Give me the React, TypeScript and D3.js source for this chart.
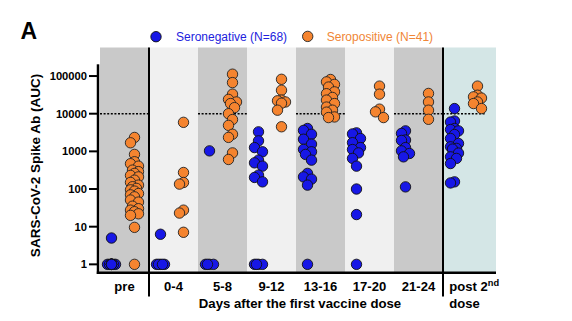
import React from 'react';
import * as d3 from 'd3';

const categories = ['pre', '0-4', '5-8', '9-12', '13-16', '17-20', '21-24', 'post'];
const bandShade = ['dark', 'light', 'dark', 'light', 'dark', 'light', 'dark', 'teal'];
const thresholdBands = ['pre', '5-8', '13-16', '21-24', 'post'];

const seronegative: number[][] = [
  [5, 1, 1, 1, 1, 1, 1, 1, 1, 1, 1, 1, 1],
  [6.3, 1, 1, 1, 1, 1],
  [1030, 1, 1, 1, 1],
  [3300, 1900, 1260, 975, 585, 495, 405, 234, 203, 155, 1, 1, 1, 1],
  [4050, 3600, 2850, 2100, 1560, 1130, 975, 830, 585, 260, 210, 183, 127, 1],
  [3100, 2900, 2200, 1700, 1260, 1120, 910, 650, 405, 100, 21, 1],
  [3500, 3000, 2000, 1950, 1260, 1030, 880, 715, 114],
  [13700, 6400, 6000, 4050, 3800, 3500, 2800, 2200, 1620, 1320, 1200, 1150, 900, 715, 650, 475, 155, 145],
];

const seropositive: number[][] = [
  [2340, 1690, 830, 530, 470, 405, 318, 290, 260, 230, 210, 172, 150, 127, 115, 104, 95, 88, 76, 70, 62, 51, 45, 35, 30, 27.5, 25, 22, 20, 9.6, 1],
  [5900, 275, 149, 135, 27.5, 23, 7.1],
  [112000, 67000, 33000, 24000, 20500, 18600, 14500, 10000, 7000, 4900, 2850, 2350, 910, 610],
  [82000, 42000, 23000, 22000, 20500, 19000, 12400, 4500],
  [81000, 70000, 60000, 51000, 38000, 34000, 27000, 23000, 18600, 15000, 12400, 11000, 8200, 7900],
  [54000, 33000, 13200, 11200, 7900],
  [34500, 20500, 12400, 7100],
  [54000, 31000, 28000, 26000, 20500, 18600, 13700],
];

const yTicks = [1, 10, 100, 1000, 10000, 100000];
const threshold = 10000;

const BLUE = '#1717e6';
const ORANGE = '#f5842f';
const FONT = '"Liberation Sans", Arial, Helvetica, sans-serif';
const shadeColor: Record<string, string> = { dark: '#c9c9c9', light: '#f0f0f0', teal: '#d4e6e6' };

const x = d3.scaleBand<string>().domain(categories).range([100, 492]).paddingInner(0).paddingOuter(0);
const y = d3.scaleLog().domain([0.6, 205000]).range([272.7, 64.3]);

function swarm(vals: number[], cx: number) {
  const placed: { x: number; y: number }[] = [];
  const offsets = [0, -4, 4, -2, 2];
  return vals
    .slice()
    .sort((a, b) => b - a)
    .map((v) => {
      const py = y(v);
      let best = 0;
      let bestD = -1;
      for (const o of offsets) {
        const px = cx + o;
        let md = Infinity;
        for (const p of placed) md = Math.min(md, Math.hypot(p.x - px, p.y - py));
        if (md >= 7) {
          best = o;
          break;
        }
        if (md > bestD) {
          bestD = md;
          best = o;
        }
      }
      placed.push({ x: cx + best, y: py });
      return { x: cx + best, y: py, v };
    });
}

function SText(props: { x: number; y: number; sx?: number; size: number; anchor?: string; bold?: boolean; fill?: string; children: React.ReactNode }) {
  const { x: tx, y: ty, sx = 1, size, anchor = 'start', bold = true, fill = '#000', children } = props;
  return (
    <text
      transform={`translate(${tx},${ty}) scale(${sx},1)`}
      textAnchor={anchor}
      fontFamily={FONT}
      fontSize={size}
      fontWeight={bold ? 'bold' : 'normal'}
      fill={fill}
    >
      {children}
    </text>
  );
}

export default function App() {
  const bw = x.bandwidth();
  const axisRight = 496;
  return (
    <svg width={572} height={321} style={{ position: 'absolute', left: 0, top: 0, background: '#fff' }}>
      {/* bands */}
      {categories.map((c, i) => (
        <rect
          key={'b' + c}
          x={x(c)!}
          y={47.5}
          width={c === 'post' ? axisRight - x(c)! : bw}
          height={272.7 - 47.5}
          fill={shadeColor[bandShade[i]]}
        />
      ))}
      {/* threshold dotted lines */}
      {categories
        .filter((c) => thresholdBands.includes(c))
        .map((c) => (
          <line
            key={'t' + c}
            x1={x(c)!}
            x2={x(c)! + (c === 'post' ? bw - 6 : bw)}
            y1={y(threshold)}
            y2={y(threshold)}
            stroke="#000"
            strokeWidth={1.6}
            strokeDasharray="2,1.6"
          />
        ))}
      {/* separators */}
      {['0-4', 'post'].map((c) => (
        <line key={'s' + c} x1={x(c)!} x2={x(c)!} y1={47.5} y2={296.5} stroke="#000" strokeWidth={2} />
      ))}
      {/* axes */}
      <line x1={98} x2={98} y1={64.3} y2={274} stroke="#000" strokeWidth={2.5} />
      <line x1={96.8} x2={axisRight} y1={272.7} y2={272.7} stroke="#000" strokeWidth={2.5} />
      {yTicks.map((t) => (
        <g key={'yt' + t}>
          <line x1={89} x2={98} y1={y(t)} y2={y(t)} stroke="#000" strokeWidth={2} />
          <SText x={87} y={y(t) + 4} size={11.2} anchor="end">
            {String(t)}
          </SText>
        </g>
      ))}
      {/* points */}
      {categories.map((c, i) => {
        const cx = x(c)! + bw / 2;
        const neg = swarm(seronegative[i], cx - 13);
        const pos = swarm(seropositive[i], cx + 10);
        return (
          <g key={'p' + c}>
            {neg.map((p, j) => (
              <circle key={'n' + j} cx={p.x} cy={p.y} r={5.2} fill={BLUE} stroke="#111" strokeWidth={0.9} />
            ))}
            {pos.map((p, j) => (
              <circle key={'o' + j} cx={p.x} cy={p.y} r={5.2} fill={ORANGE} stroke="#222" strokeWidth={0.9} />
            ))}
          </g>
        );
      })}
      {/* x labels */}
      {categories.map((c) =>
        c === 'post' ? (
          <g key={'xl' + c}>
            <SText x={x(c)! + 6.3} y={290.7} size={12} sx={1.09}>
              <tspan>post 2</tspan>
              <tspan dy={-5} fontSize={8.5}>nd</tspan>
            </SText>
            <SText x={x(c)! + 6.3} y={308.3} size={12} sx={1.09}>
              dose
            </SText>
          </g>
        ) : (
          <SText key={'xl' + c} x={x(c)! + bw / 2} y={290.7} size={12} sx={1.09} anchor="middle">
            {c}
          </SText>
        )
      )}
      <SText x={300} y={308.3} size={12} sx={1.1} anchor="middle">
        Days after the first vaccine dose
      </SText>
      {/* y title */}
      <text
        transform="translate(40,165.5) rotate(-90)"
        textAnchor="middle"
        fontFamily={FONT}
        fontSize={13.5}
        fontWeight="bold"
      >
        SARS-CoV-2 Spike Ab (AUC)
      </text>
      {/* panel letter */}
      <SText x={20.5} y={39.3} size={23}>
        A
      </SText>
      {/* legend */}
      <circle cx={156} cy={36.7} r={5.2} fill={BLUE} stroke="#111" strokeWidth={0.9} />
      <SText x={176} y={41} size={12} bold={false} fill="#2222dd">
        Seronegative (N=68)
      </SText>
      <circle cx={307.7} cy={36.4} r={5.2} fill={ORANGE} stroke="#222" strokeWidth={0.9} />
      <SText x={326.7} y={41} size={12} bold={false} fill="#f08636">
        Seropositive (N=41)
      </SText>
    </svg>
  );
}
